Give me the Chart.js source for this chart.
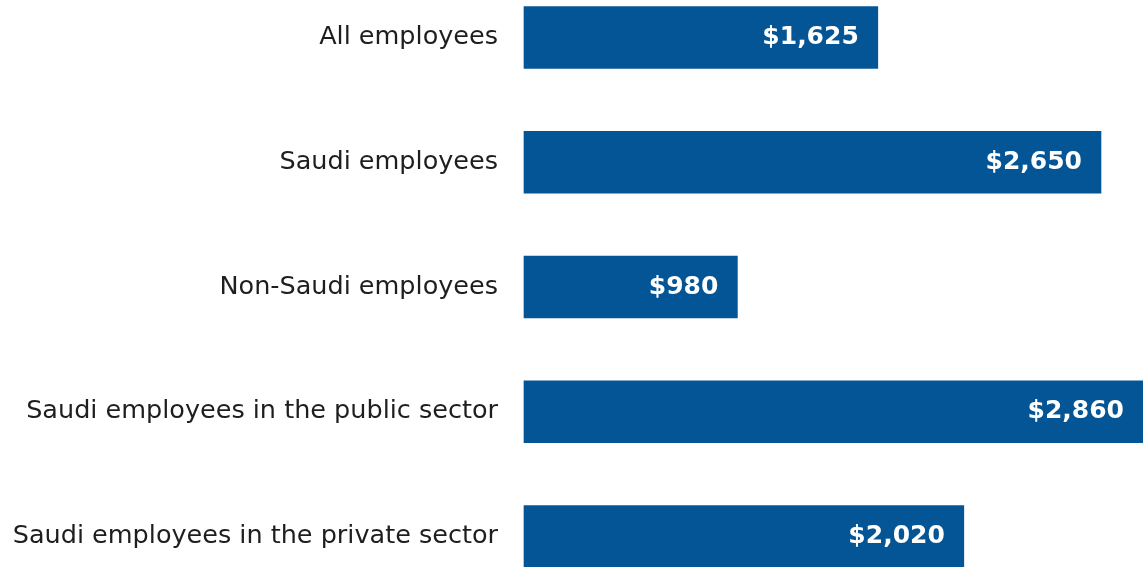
<!DOCTYPE html>
<html>
<head>
<meta charset="utf-8">
<script src="https://cdn.jsdelivr.net/npm/chart.js@4"></script>
<style>
  html, body { margin: 0; padding: 0; background: #ffffff; }
</style>
</head>
<body>
<canvas id="chartSalari" width="1143" height="567"></canvas>
<script>
var categories = [
  "All employees",
  "Saudi employees",
  "Non-Saudi employees",
  "Saudi employees in the public sector",
  "Saudi employees in the private sector"
];
var salaries = [1625, 2650, 980, 2860, 2020];
var valueLabels = ["$1,625", "$2,650", "$980", "$2,860", "$2,020"];

var chartSalari;

// draws the white value text inside the end of each bar
var valueLabelPlugin = {
  id: 'valueLabels',
  afterDatasetsDraw: function(chart) {
    var ctx = chart.ctx;
    var meta = chart.getDatasetMeta(0);
    ctx.save();
    ctx.fillStyle = '#ffffff';
    ctx.font = 'bold 25px "DejaVu Sans"';
    ctx.textAlign = 'right';
    ctx.textBaseline = 'middle';
    meta.data.forEach(function(bar, i) {
      var right = Math.min(bar.x, chart.width);
      ctx.fillText(valueLabels[i], right - 19, bar.y);
    });
    ctx.restore();
  }
};

function showChartSalari() {
  var ctx = document.getElementById('chartSalari').getContext('2d');

  chartSalari = new Chart(ctx, {
    type: 'bar',
    data: {
      labels: categories,
      datasets: [{
        data: salaries,
        backgroundColor: '#045595',
        borderWidth: 0,
        barThickness: 62,
        clip: false
      }]
    },
    options: {
      indexAxis: 'y',
      responsive: false,
      animation: false,
      layout: {
        padding: { left: 0, right: 0, top: 37.5, bottom: 30.5 }
      },
      plugins: {
        legend: { display: false },
        tooltip: { enabled: false }
      },
      scales: {
        x: {
          display: false,
          min: 0,
          max: 2843
        },
        y: {
          offset: false,
          grid: { display: false },
          border: { display: false },
          ticks: {
            color: '#1e1e1e',
            padding: 18,
            font: { family: '"DejaVu Sans"', size: 25.5 }
          },
          afterFit: function(scale) {
            // labels sit beside the bars, they should not shrink the plot
            scale.width = 524;
            scale.paddingTop = 0;
            scale.paddingBottom = 0;
          }
        }
      }
    },
    plugins: [valueLabelPlugin]
  });
}

showChartSalari();
</script>
</body>
</html>
